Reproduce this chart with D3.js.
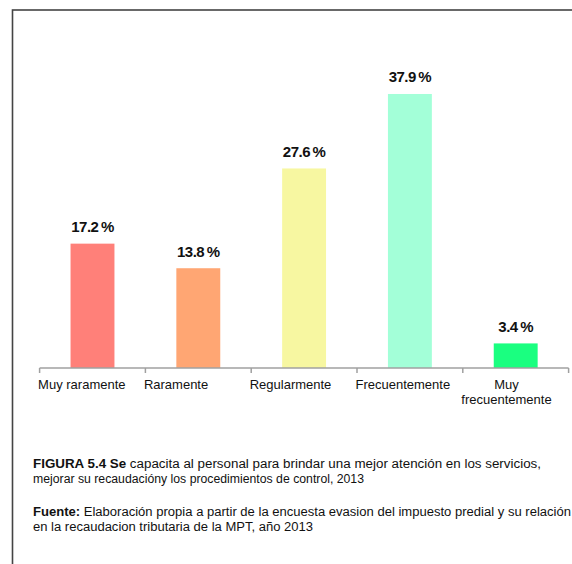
<!DOCTYPE html>
<html>
<head>
<meta charset="utf-8">
<script src="https://cdn.jsdelivr.net/npm/d3@7"></script>
<style>
  html, body { margin: 0; padding: 0; background: #fff; }
  svg { display: block; font-family: "Liberation Sans", Arial, sans-serif; }
</style>
</head>
<body>
<svg id="chart" width="572" height="564"></svg>
<script>
const categories = ["Muy raramente", "Raramente", "Regularmente", "Frecuentemente", "Muy frecuentemente"];
const tickLabels = [["Muy raramente"], ["Raramente"], ["Regularmente"], ["Frecuentemente"], ["Muy", "frecuentemente"]];
const values = [17.2, 13.8, 27.6, 37.9, 3.4];
const colors = ["#FF8079", "#FFA673", "#F7F7A1", "#A3FFD8", "#1AFF80"];
const captionTitle = ["FIGURA 5.4 ", "Se", " capacita al personal para brindar una mejor atención en los servicios,"];
const captionTitle2 = "mejorar su recaudacióny los procedimientos de control, 2013";
const sourceLabel = "Fuente:";
const sourceText1 = " Elaboración propia a partir de la encuesta evasion del impuesto predial y su relación";
const sourceText2 = "en la recaudacion tributaria de la MPT, año 2013";

const svg = d3.select("#chart");

// frame
svg.append("rect")
  .attr("x", 12.5).attr("y", 10).attr("width", 600).attr("height", 600)
  .attr("fill", "none").attr("stroke", "#444").attr("stroke-width", 1.6);

const x = d3.scaleBand().domain(categories).range([39.6, 568.6]).padding(0);
const y = d3.scaleLinear().domain([0, 40]).range([368, 368 - 40 * 7.23]);
const barW = x.bandwidth() * 0.415;

// bars
svg.selectAll("rect.bar").data(values).enter().append("rect")
  .attr("class", "bar")
  .attr("x", (d, i) => x(categories[i]) + x.bandwidth() / 2 - barW / 2)
  .attr("y", d => y(d))
  .attr("width", barW)
  .attr("height", d => y(0) - y(d))
  .attr("fill", (d, i) => colors[i]);

// value labels
svg.selectAll("text.val").data(values).enter().append("text")
  .attr("class", "val")
  .attr("x", (d, i) => x(categories[i]) + x.bandwidth() / 2)
  .attr("y", d => y(d) - 11.5)
  .attr("text-anchor", "middle")
  .attr("font-size", 15).attr("font-weight", "bold")
  .attr("letter-spacing", -0.5)
  .attr("fill", "#111")
  .text(d => d.toFixed(1) + "\u2009%");

// axis line & ticks
const axisY = y(0);
svg.append("line")
  .attr("x1", x.range()[0]).attr("x2", x.range()[1])
  .attr("y1", axisY).attr("y2", axisY)
  .attr("stroke", "#A0A0A0").attr("stroke-width", 1.5);
const bounds = categories.map(c => x(c)).concat([x.range()[1]]);
svg.selectAll("line.tick").data(bounds).enter().append("line")
  .attr("class", "tick")
  .attr("x1", d => d).attr("x2", d => d)
  .attr("y1", axisY).attr("y2", axisY + 5)
  .attr("stroke", "#A0A0A0").attr("stroke-width", 1.5);

// category labels
tickLabels.forEach((lines, i) => {
  const g = svg.append("g");
  const start = x(categories[i]) - 1.5;
  const texts = lines.map((ln, j) => g.append("text")
    .attr("y", 389 + j * 15)
    .attr("font-size", 13)
    .attr("fill", "#111")
    .text(ln));
  const widths = texts.map(t => t.node().getComputedTextLength());
  const maxW = d3.max(widths);
  texts.forEach((t, j) => {
    if (lines.length > 1) {
      t.attr("x", start + maxW / 2).attr("text-anchor", "middle");
    } else {
      t.attr("x", start);
    }
  });
});

// caption
const cap1 = svg.append("text").attr("x", 33).attr("y", 468)
  .attr("font-size", 12).attr("fill", "#111")
  .attr("textLength", 508).attr("lengthAdjust", "spacingAndGlyphs");
cap1.append("tspan").attr("font-weight", "bold").text(captionTitle[0]);
cap1.append("tspan").attr("font-weight", "bold").text(captionTitle[1]);
cap1.append("tspan").text(captionTitle[2]);
svg.append("text").attr("x", 33).attr("y", 483)
  .attr("font-size", 12).attr("fill", "#111")
  .attr("textLength", 331).attr("lengthAdjust", "spacingAndGlyphs")
  .text(captionTitle2);

const src1 = svg.append("text").attr("x", 33).attr("y", 516)
  .attr("font-size", 12).attr("fill", "#111")
  .attr("textLength", 538).attr("lengthAdjust", "spacingAndGlyphs");
src1.append("tspan").attr("font-weight", "bold").text(sourceLabel);
src1.append("tspan").text(sourceText1);
svg.append("text").attr("x", 33).attr("y", 531)
  .attr("font-size", 12).attr("fill", "#111")
  .attr("textLength", 280).attr("lengthAdjust", "spacingAndGlyphs")
  .text(sourceText2);
</script>
</body>
</html>
